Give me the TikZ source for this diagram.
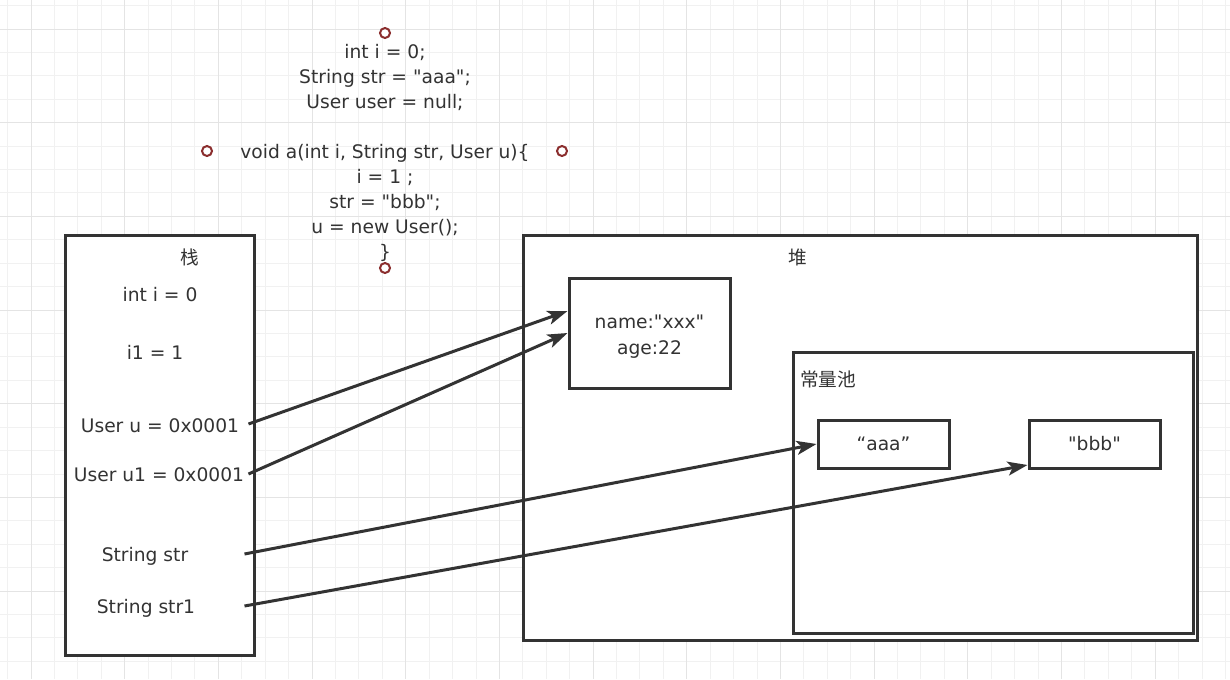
\documentclass[tikz,border=0pt]{standalone}
\usepackage{fontspec}
\setmainfont[Ligatures=TeXOff]{DejaVu Sans}
\newfontfamily\cjk{Noto Sans CJK SC}
\usepackage{tikz}
\usetikzlibrary{arrows.meta,calc}
\definecolor{ink}{HTML}{333333}
\definecolor{gridminor}{HTML}{F1F1F1}
\definecolor{gridmajor}{HTML}{E4E4E4}
\definecolor{handlered}{HTML}{8B2E2E}
\newdimen\px \px=0.75pt
\newcommand{\txt}{\fontsize{14}{18.75}\selectfont}

\begin{document}
\begin{tikzpicture}[x=0.75pt,y=-0.75pt,
	box/.style={draw=ink, line width=3\px, fill=white, inner sep=0pt},
	lbl/.style={text=ink, font=\txt, inner sep=3\px},
	ptr/.style={draw=ink, line width=3\px, -{Stealth[length=15pt, width=10.5pt, inset=3.75pt]}},
	handle/.style={circle, draw=handlered, line width=2\px, fill=white, minimum size=10\px, inner sep=0pt}]
	\useasboundingbox (0,0) rectangle (1230,679);
	\fill[white] (0,0) rectangle (1230,679);
	
	% background grid
	\foreach \i in {0,...,52} \draw[gridminor, line width=1\px] ({7.6+23.42*\i},0) -- ({7.6+23.42*\i},679);
	\foreach \i in {0,...,29} \draw[gridminor, line width=1\px] (0,{5.6+23.42*\i}) -- (1230,{5.6+23.42*\i});
	\foreach \i in {0,...,13} \draw[gridmajor, line width=1\px] ({31+93.67*\i},0) -- ({31+93.67*\i},679);
	\foreach \i in {0,...,7} \draw[gridmajor, line width=1\px] (0,{29+93.67*\i}) -- (1230,{29+93.67*\i});
	
	% code
	\node[lbl, align=center] (code) at (385,153) {int i = 0;\\String str = "aaa";\\User user = null;\\~\\void a(int i, String str, User u)\{\\i = 1 ;\\str = "bbb";\\u = new User();\\\}};
	\node[handle] (hn) at (385,33) {};
	\node[handle] (hw) at (207,151) {};
	\node[handle] (he) at (562,151) {};
	\node[handle] (hs) at (385,268) {};
	
	% stack
	\node[box, minimum width=189\px, minimum height=420\px] (stack) at (159.5,445) {};
	\node[lbl] (stacktitle) at (190,257) {\cjk 栈};
	\node[lbl] (i) at (160,295) {int i = 0};
	\node[lbl] (i1) at (155,352) {i1 = 1};
	\node[lbl] (u) at (160,426) {User u = 0x0001};
	\node[lbl] (u1) at (159,475) {User u1 = 0x0001};
	\node[lbl] (str) at (145,556) {String str};
	\node[lbl] (str1) at (146,608) {String str1};
	
	% heap
	\node[box, minimum width=674\px, minimum height=405\px] (heap) at (860,437.5) {};
	\node[lbl] (heaptitle) at (798,257) {\cjk 堆};
	\node[box, minimum width=161\px, minimum height=110\px] (obj) at (649.5,333) {};
	\node[lbl, align=center, font=\fontsize{14}{19.5}\selectfont] (objtext) at (649.5,337) {name:"xxx"\\age:22};
	\node[box, minimum width=400\px, minimum height=281\px] (pool) at (993,492.5) {};
	\node[lbl, anchor=west] (pooltitle) at (797,379) {\cjk 常量池};
	\node[box, minimum width=131\px, minimum height=48\px] (aaa) at (883.5,444) {};
	\node[lbl] at (aaa) {“aaa”};
	\node[box, minimum width=131\px, minimum height=48\px] (bbb) at (1094.5,444) {};
	\node[lbl] at (bbb) {"bbb"};
	
	% references
	\draw[ptr] ($(u -| stack.east)+(-7,-2)$) -- ($(obj.west)+(0,-22)$);
	\draw[ptr] ($(u1 -| stack.east)+(-7,-1)$) -- (obj.west);
	\draw[ptr] ($(str -| stack.east)+(-11,-2)$) -- (aaa.west);
	\draw[ptr] ($(str1 -| stack.east)+(-11,-2)$) -- ($(bbb.west)+(0,21)$);
\end{tikzpicture}
\end{document}
